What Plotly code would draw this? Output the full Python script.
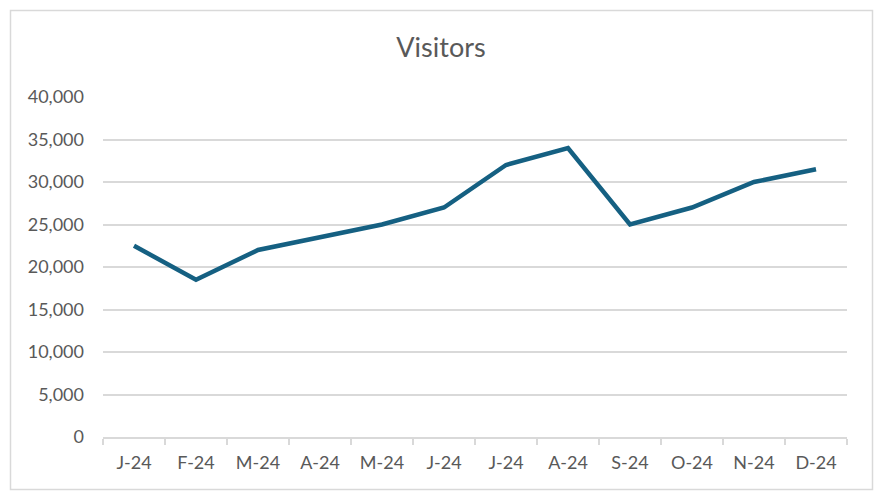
import plotly.graph_objects as go

months = ["J-24", "F-24", "M-24", "A-24", "M-24", "J-24",
          "J-24", "A-24", "S-24", "O-24", "N-24", "D-24"]
visitors = [22500, 18500, 22000, 23500, 25000, 27000,
            32000, 34000, 25000, 27000, 30000, 31500]
y_ticks = [0, 5000, 10000, 15000, 20000, 25000, 30000, 35000, 40000]

idx = list(range(len(months)))

W, H = 882, 499
ml, mr, mt, mb = 103, 35, 97, 62
pw, ph = W - ml - mr, H - mt - mb

fig = go.Figure(go.Scatter(
    x=idx, y=visitors, mode="lines",
    line=dict(color="#156082", width=4.5),
    hoverinfo="y",
))

fig.update_layout(
    width=W, height=H,
    margin=dict(l=ml, r=mr, t=mt, b=mb),
    paper_bgcolor="white", plot_bgcolor="white",
    font=dict(family="Lato, Open Sans, sans-serif", color="#595959", size=18),
    title=dict(text="Visitors", x=0.5, xanchor="center", y=1 - 48 / H, yanchor="middle",
               font=dict(size=27, color="#595959")),
    showlegend=False,
    xaxis=dict(
        range=[-0.5, len(months) - 0.5],
        tickvals=idx, ticktext=months,
        ticks="", showgrid=False, zeroline=False,
        showline=True, linecolor="#D9D9D9", linewidth=1.5,
        ticklabelstandoff=9,
        minor=dict(tick0=-0.5, dtick=1, ticks="outside", ticklen=6,
                   tickcolor="#D9D9D9", tickwidth=1.5, showgrid=False),
    ),
    yaxis=dict(
        range=[0, 40000], tickvals=y_ticks,
        tickformat=",d",
        showgrid=True, gridcolor="#D9D9D9", gridwidth=1.5,
        zeroline=False, showline=False, ticks="",
        ticklabelstandoff=18,
    ),
    shapes=[dict(
        type="rect", xref="paper", yref="paper",
        x0=(10.5 - ml) / pw, x1=(872.5 - ml) / pw,
        y0=(mt + ph - 489.5) / ph, y1=(mt + ph - 10.5) / ph,
        line=dict(color="#D9D9D9", width=1.5), fillcolor="rgba(0,0,0,0)",
        layer="below",
    )],
)

fig.write_html("out.html", config={"displayModeBar": False},
               post_script="document.body.style.margin='0';")
